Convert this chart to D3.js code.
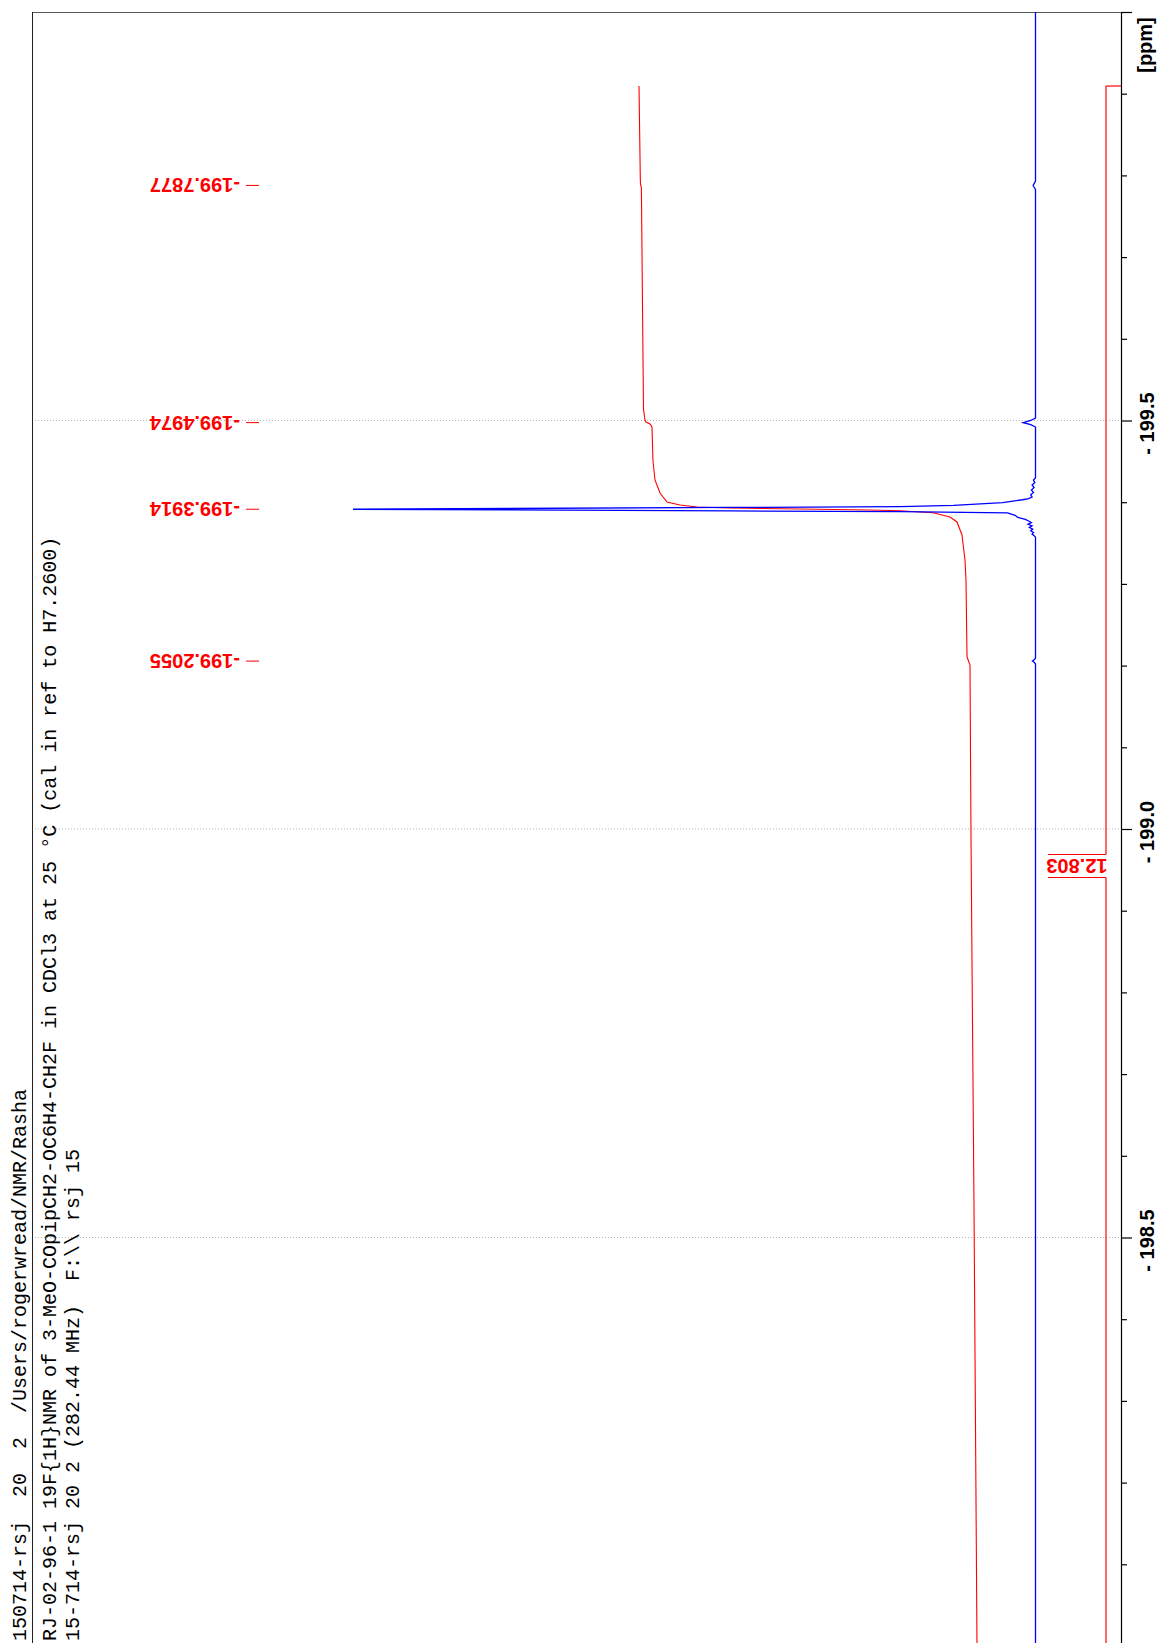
<!DOCTYPE html>
<html><head><meta charset="utf-8">
<script src="https://cdn.jsdelivr.net/npm/d3@7"></script>
<style>body{margin:0;background:#fff} svg{display:block}</style>
</head><body>
<svg id="c" width="1158" height="1643"></svg>
<script>
// Acquisition / title lines
const headerLines = [
  "150714-rsj  20  2  /Users/rogerwread/NMR/Rasha",
  "RJ-02-96-1 19F{1H}NMR of 3-MeO-COpipCH2-OC6H4-CH2F in CDCl3 at 25 \u00b0C (cal in ref to H7.2600)",
  "15-714-rsj 20 2 (282.44 MHz)  F:\\\\ rsj 15"
];

// Axis ticks (ppm)
const majorTicks = [-200.0, -199.5, -199.0, -198.5, -198.0];
const majorTickLabels = ["", "- 199.5", "- 199.0", "- 198.5", ""];
const minorTicks = [-199.9, -199.8, -199.7, -199.6, -199.4, -199.3, -199.2, -199.1,
                    -198.9, -198.8, -198.7, -198.6, -198.4, -198.3, -198.2, -198.1];

// Picked peaks (ppm)
const peakLabels = [-199.7877, -199.4974, -199.3914, -199.2055];

// 19F spectrum: chemical shift (ppm) and relative intensity (%)
const specPpm = [
  -200.000, -199.7930, -199.7900, -199.7877, -199.7855, -199.7825,
  -199.5030, -199.5000, -199.4974, -199.4950, -199.4920,
  -199.4300, -199.4270, -199.4240, -199.4210, -199.4180, -199.4150, -199.4120,
  -199.4090, -199.4064, -199.4045, -199.4030, -199.3995, -199.3960, -199.3945,
  -199.3936, -199.3914, -199.3893, -199.3885, -199.3870, -199.3840, -199.3815,
  -199.3790, -199.3770, -199.3750, -199.3730, -199.3710, -199.3690, -199.3670,
  -199.3650, -199.3630, -199.3610, -199.3590, -199.3570,
  -199.2090, -199.2070, -199.2055, -199.2040, -199.2020,
  -198.000
];
const specInt = [
  0.0, 0.0, 0.2, 0.35, 0.2, 0.0,
  0.0, 0.7, 1.8, 0.7, 0.0,
  0.0, 0.3, 0.1, 0.5, 0.2, 0.6, 0.3,
  0.7, 0.5, 1.0, 1.9, 4.8, 12.0, 19.8,
  44.7, 100.0, 44.7, 19.8, 4.1, 3.0, 2.6,
  1.5, 1.0, 0.6, 1.1, 0.5, 0.9, 0.4,
  0.7, 0.3, 0.5, 0.2, 0.0,
  0.0, 0.2, 0.45, 0.2, 0.0,
  0.0
];

// Integral trace: ppm and running integral
const intPpm = [
  -199.9094, -199.7968, -199.7900, -199.7850, -199.5141, -199.5006, -199.4982,
  -199.4957, -199.4920, -199.4504, -199.4272, -199.4113, -199.4002, -199.3966,
  -199.3941, -199.3929, -199.3917, -199.3905, -199.3896, -199.3871, -199.3819,
  -199.3758, -199.3599, -199.3293, -199.3048, -199.2130, -199.2105, -199.2007,
  -198.9890, -198.5398, -198.0000
];
const intVal = [
  0.000, 0.049, 0.055, 0.090, 0.170, 0.227, 0.265,
  0.417, 0.492, 0.530, 0.606, 0.795, 1.061, 1.553,
  2.197, 3.447, 6.098, 8.750, 9.886, 11.136, 11.780,
  12.045, 12.235, 12.348, 12.386, 12.424, 12.430, 12.538,
  12.576, 12.689, 12.803
];
const integralRegion = [-199.9094, -198.0];
const integralLabel = "12.803";

const svg = d3.select("#c");
const frameLeft = 32, axisX = 1121, plotTop = 12;

const y = d3.scaleLinear().domain([-200, -198]).range([plotTop, plotTop + 1634]);
const xs = d3.scaleLinear().domain([0, 100]).range([1035.5, 353]);
const xi = d3.scaleLinear().domain([0, 12.803]).range([639, 977]);

// dotted grid at major ticks
svg.append("g").selectAll("line").data(majorTicks.slice(1, 4)).join("line")
  .attr("x1", frameLeft).attr("x2", axisX)
  .attr("y1", d => y(d)).attr("y2", d => y(d))
  .attr("stroke", "#b4b4b4").attr("stroke-width", 1).attr("stroke-dasharray", "1,2");

// frame
svg.append("line").attr("x1", frameLeft).attr("x2", axisX).attr("y1", plotTop + 0.5).attr("y2", plotTop + 0.5)
  .attr("stroke", "#555").attr("stroke-width", 1);
svg.append("line").attr("x1", frameLeft + 0.5).attr("x2", frameLeft + 0.5).attr("y1", plotTop).attr("y2", 1643)
  .attr("stroke", "#222").attr("stroke-width", 1);

// ppm axis
const axisG = svg.append("g").attr("transform", `translate(${axisX},0)`);
axisG.call(d3.axisRight(y).tickValues(majorTicks).tickSize(11).tickSizeOuter(0).tickFormat(""));
axisG.append("g").call(d3.axisRight(y).tickValues(minorTicks).tickSize(6).tickSizeOuter(0).tickFormat(""))
  .select(".domain").remove();
axisG.selectAll("line").attr("stroke", "#000").attr("stroke-width", 1.2);
axisG.select(".domain").attr("stroke", "#000").attr("stroke-width", 1.2);

svg.append("g").selectAll("text").data(majorTicks).join("text")
  .attr("transform", d => `translate(1147,${y(d) + 3}) rotate(-90)`)
  .attr("text-anchor", "middle").attr("dy", "0.35em")
  .attr("font-family", "Liberation Sans, Arial, sans-serif").attr("font-weight", "bold")
  .attr("font-size", 20).style("white-space", "pre")
  .text((d, i) => majorTickLabels[i]);

svg.append("text")
  .attr("transform", `translate(1145,${plotTop + 33}) rotate(-90)`)
  .attr("text-anchor", "middle").attr("dy", "0.35em")
  .attr("font-family", "Liberation Sans, Arial, sans-serif").attr("font-weight", "bold")
  .attr("font-size", 20).text("[ppm]");

// header text
const headerX = [19, 49, 72];
svg.append("g").selectAll("text").data(headerLines).join("text")
  .attr("transform", (d, i) => `translate(${headerX[i]},1641) rotate(-90)`)
  .attr("dy", "0.35em")
  .attr("font-family", "Liberation Mono, Courier New, monospace")
  .attr("font-size", 20).attr("fill", "#000").style("white-space", "pre")
  .text(d => d);

// integral curve
const intData = intPpm.map((p, i) => [p, intVal[i]]);
svg.append("path").datum(intData)
  .attr("d", d3.line().x(d => xi(d[1])).y(d => y(d[0])))
  .attr("fill", "none").attr("stroke", "#ff0000").attr("stroke-width", 1.1);

// spectrum
const specData = specPpm.map((p, i) => [p, specInt[i]]);
svg.append("path").datum(specData)
  .attr("d", d3.line().x(d => xs(d[1])).y(d => y(d[0])))
  .attr("fill", "none").attr("stroke", "#0000ff").attr("stroke-width", 1.3);

// integral region bracket and value
const bx = 1106;
const labY = y((integralRegion[0] + integralRegion[1]) / 2);
const br = svg.append("g").attr("stroke", "#ff0000").attr("stroke-width", 1.2);
br.append("line").attr("x1", bx).attr("x2", axisX).attr("y1", y(integralRegion[0])).attr("y2", y(integralRegion[0]));
br.append("line").attr("x1", bx).attr("x2", bx).attr("y1", y(integralRegion[0])).attr("y2", labY - 11.5);
br.append("line").attr("x1", bx).attr("x2", bx).attr("y1", labY + 11.5).attr("y2", y(integralRegion[1]));
br.append("line").attr("x1", 1048).attr("x2", bx).attr("y1", labY - 11.5).attr("y2", labY - 11.5);
br.append("line").attr("x1", 1048).attr("x2", bx).attr("y1", labY + 11.5).attr("y2", labY + 11.5);
svg.append("text")
  .attr("transform", `translate(1107.5,${labY}) rotate(180)`)
  .attr("dy", "0.35em")
  .attr("font-family", "Liberation Sans, Arial, sans-serif").attr("font-weight", "bold")
  .attr("font-size", 20).attr("fill", "#ff0000").text(integralLabel);

// peak labels
const pk = svg.append("g");
pk.selectAll("line").data(peakLabels).join("line")
  .attr("x1", 246).attr("x2", 259).attr("y1", d => y(d)).attr("y2", d => y(d))
  .attr("stroke", "#ff0000").attr("stroke-width", 1);
pk.selectAll("text").data(peakLabels).join("text")
  .attr("transform", d => `translate(240,${y(d)}) rotate(180)`)
  .attr("dy", "0.35em")
  .attr("font-family", "Liberation Sans, Arial, sans-serif").attr("font-weight", "bold")
  .attr("font-size", 20).attr("fill", "#ff0000")
  .text(d => d.toFixed(4));
</script>
</body></html>
